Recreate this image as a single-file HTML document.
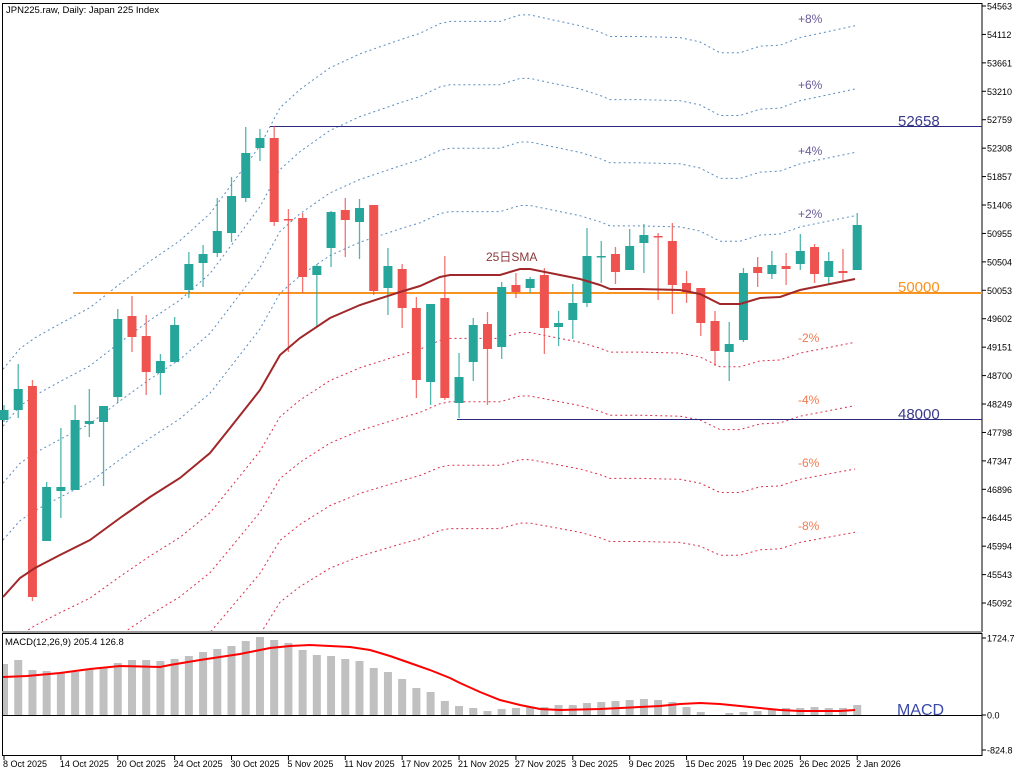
<!DOCTYPE html>
<html><head><meta charset="utf-8">
<style>
html,body{margin:0;padding:0;background:#fff;width:1024px;height:773px;overflow:hidden;}
svg{display:block;font-family:"Liberation Sans","Noto Sans CJK JP",sans-serif;}
</style></head>
<body>
<svg id="c" width="1024" height="773" xmlns="http://www.w3.org/2000/svg"></svg>
<script>
const S=document.getElementById('c');let h='';
const X=i=>4+i*14.22;
const Y=p=>6+(54563-p)*0.06303;
const P=y=>54563-(y-6)/0.06303;
h+='<defs><clipPath id="mp"><rect x="3" y="3" width="979" height="628"/></clipPath><clipPath id="mc"><rect x="3" y="634" width="979" height="122"/></clipPath></defs>';
h+='<rect x="2.5" y="3.5" width="979.5" height="628" fill="none" stroke="#000" stroke-width="1"/>';
h+='<rect x="2.5" y="633.5" width="979.5" height="122" fill="none" stroke="#000" stroke-width="1"/>';
h+='<line x1="2" y1="632" x2="982" y2="632" stroke="#999" stroke-width="2"/>';
h+='<text x="6" y="13" font-size="9.5" fill="#000">JPN225.raw, Daily:  Japan 225 Index</text>';
for(let n=0;n<22;n++){const v=54563-n*451,y=6+n*28.43;h+=`<line x1="982" y1="${y}" x2="986" y2="${y}" stroke="#000"/><text x="987" y="${y+3.5}" font-size="9" fill="#000">${v}</text>`;}
const sma=[[3,597],[20,578],[35,568],[60,555],[90,540],[120,518],[150,497],[180,478],[210,453],[230,428],[260,390],[280,355],[300,338],[330,318],[360,305],[400,292],[420,286],[440,277],[450,275],[480,275],[500,275],[520,269],[530,269],[545,272],[580,279],[600,285],[610,289],[640,289],[680,290],[700,294],[720,304],[740,304],[760,298],[780,297],[800,290],[820,286],[840,282],[855,279]];
h+='<g clip-path="url(#mp)">';
[8,6,4,2,-2,-4,-6,-8].forEach(k=>{
 const pts=sma.map(([x,y])=>x+','+Y(P(y)*(1+k/100)).toFixed(1)).join(' ');
 h+=`<polyline points="${pts}" fill="none" stroke="${k>0?'#5a8cc0':'#d8304c'}" stroke-width="1" stroke-dasharray="2,3"/>`;
});
h+='</g>';
[[8,19],[6,85],[4,151],[2,214],[-2,338],[-4,400],[-6,463],[-8,526]].forEach(([k,y])=>{
 h+=`<text x="798" y="${y+4}" font-size="12" fill="${k>0?'#6a5a9a':'#f07a50'}">${k>0?'+':'-'}${Math.abs(k)}%</text>`;});
h+='<line x1="270" y1="126.5" x2="982" y2="126.5" stroke="#2a2a80" stroke-width="1"/>';
h+='<line x1="457" y1="419.5" x2="982" y2="419.5" stroke="#2a2a80" stroke-width="1"/>';
h+='<line x1="73" y1="293" x2="982" y2="293" stroke="#f7931e" stroke-width="2"/>';
h+='<text x="898" y="126" font-size="15" fill="#3a3a8a">52658</text>';
h+='<text x="898" y="419" font-size="15" fill="#3a3a8a">48000</text>';
h+='<text x="898" y="292" font-size="15" fill="#f7931e">50000</text>';
h+='<text x="486" y="261" font-size="12" fill="#8b3a3a">25日SMA</text>';
const C=[[420,410,405,422],[410,389,364,418],[386,597,380,601],[541,487,482,541],[491,487,428,518],[490,420,405,490],[424,421,389,437],[422,406,406,486],[397,319,309,403],[316,337,296,352],[336,372,315,395],[373,361,354,395],[362,325,317,362],[290,264,252,298],[263,254,245,287],[253,231,198,257],[233,196,177,242],[198,153,127,202],[148,138,129,161],[138,222,126,226],[219,220,209,352],[218,277,213,293],[275,266,264,327],[248,212,211,267],[210,220,198,257],[222,208,199,259],[205,291,205,295],[288,266,248,315],[269,308,264,328],[308,380,297,398],[382,304,304,405],[298,398,256,400],[403,377,353,418],[362,325,318,381],[324,349,312,405],[347,287,282,359],[285,292,273,298],[288,279,277,293],[275,328,268,354],[327,323,311,346],[320,303,284,339],[303,256,228,307],[256,256,241,283],[254,272,247,284],[270,246,229,270],[243,235,224,273],[236,236,233,300],[241,285,223,314],[283,292,271,303],[288,323,288,336],[321,351,311,366],[352,344,322,381],[340,273,268,342],[267,273,257,287],[274,265,251,279],[266,269,253,285],[264,251,234,270],[247,274,244,283],[277,261,252,284],[271,273,249,281],[270,225,213,270]];
C.forEach((c,i)=>{const x=X(i);const up=c[1]<c[0]||(c[1]==c[0]&&[42,60].includes(i));const col=up?'#26a69a':'#ef5350';
 h+=`<line x1="${x}" y1="${c[2]}" x2="${x}" y2="${c[3]}" stroke="${col}" stroke-width="1.3" opacity="0.8"/>`;
 const t=Math.min(c[0],c[1]),b=Math.max(c[0],c[1]);h+=`<rect x="${x-4.5}" y="${t}" width="9" height="${Math.max(b-t,1.5)}" fill="${col}"/>`;});
h+=`<polyline points="${sma.map(p=>p.join(',')).join(' ')}" fill="none" stroke="#a0282a" stroke-width="2"/>`;
const M=[664,660,670,671,673,672,669,668,663,660,660,661,659,656,652,649,646,641,637,640,643,650,655,656,659,661,668,672,679,688,692,701,706,708,711,709,708,707,707,705,705,703,702,701,700,699,700,702,707,712,715,713,712,711,709,708,708,707,708,708,705];
h+='<g clip-path="url(#mc)">';
M.forEach((t,i)=>{if(t<715)h+=`<rect x="${X(i)-4}" y="${t}" width="8" height="${715-t}" fill="#c0c0c0"/>`;});
h+='</g>';
h+='<line x1="3" y1="715.5" x2="982" y2="715.5" stroke="#000"/>';
h+='<polyline points="3,677 27,676 60,673 90,669 120,666 160,667 170,665 200,660 240,654 270,648 290,646 310,645 330,646 350,647 370,650 390,656 410,663 430,670 450,678 460,683 480,692 500,700 520,705 540,709 560,710 600,709 640,707 660,706 680,704 700,703 720,704 740,706 760,708 780,710 800,711 840,711 855,710" fill="none" stroke="#ff0000" stroke-width="2"/>';
h+='<text x="5" y="645" font-size="9.5" fill="#000">MACD(12,26,9) 205.4 126.8</text>';
h+='<text x="897" y="715" font-size="16" fill="#3a4aaa">MACD</text>';
[[1724.7,638],[0.0,715],[-824.8,750]].forEach(([v,y])=>{h+=`<line x1="982" y1="${y}" x2="986" y2="${y}" stroke="#000"/><text x="987" y="${y+3.5}" font-size="9" fill="#000">${v.toFixed(1)}</text>`;});
const L=['8 Oct 2025','14 Oct 2025','20 Oct 2025','24 Oct 2025','30 Oct 2025','5 Nov 2025','11 Nov 2025','17 Nov 2025','21 Nov 2025','27 Nov 2025','3 Dec 2025','9 Dec 2025','15 Dec 2025','19 Dec 2025','26 Dec 2025','2 Jan 2026'];
L.forEach((s,j)=>{const x=X(j*4);h+=`<line x1="${x}" y1="756" x2="${x}" y2="760" stroke="#000"/><text x="${x-1}" y="767" font-size="9" fill="#000">${s}</text>`;});
S.innerHTML=h;
</script>
</body></html>
